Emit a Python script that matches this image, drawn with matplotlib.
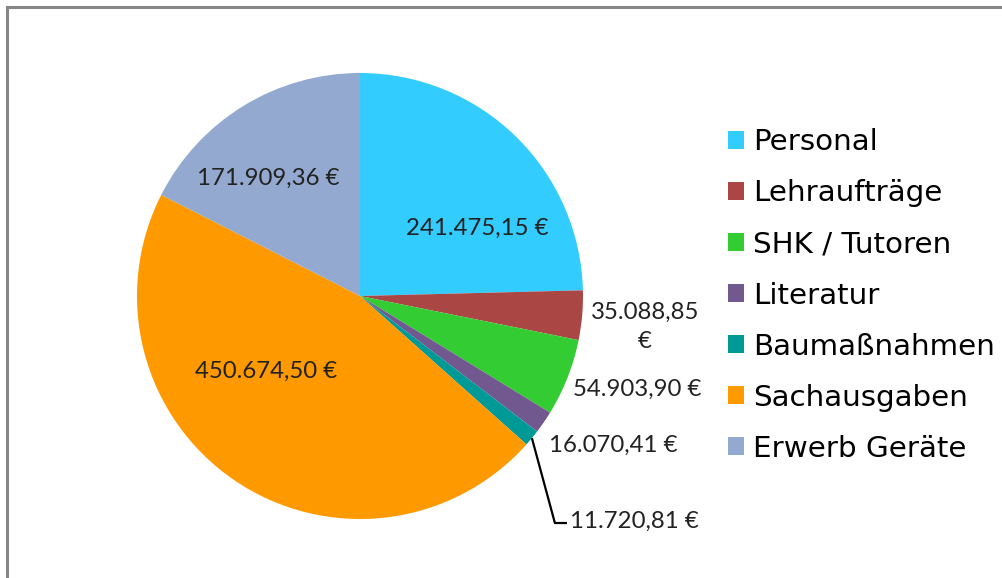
import numpy as np
import matplotlib.pyplot as plt
from matplotlib.patches import Patch
from matplotlib.lines import Line2D

categories = ["Personal", "Lehraufträge", "SHK / Tutoren", "Literatur",
              "Baumaßnahmen", "Sachausgaben", "Erwerb Geräte"]
values = [241475.15, 35088.85, 54903.90, 16070.41, 11720.81, 450674.50, 171909.36]
colors = ["#33CCFF", "#AA4643", "#33CC33", "#71588F", "#009A96", "#FF9900", "#94A9CF"]


def euro(v):
    s = f"{v:,.2f}".replace(",", "X").replace(".", ",").replace("X", ".")
    return s + " €"


labels = [euro(v) for v in values]
labels[1] = labels[1].replace(" €", "\n€")

# where Excel put the data labels (in units of the radius)
label_pos = [(0.525, 0.305), (1.278, -0.139), (1.242, -0.417), (1.135, -0.668),
             (0.942, -1.009), (-0.422, -0.336), (-0.413, 0.529)]

W, H = 1003, 578
fig = plt.figure(figsize=(W / 100, H / 100), dpi=100)

cx, cy, r = 360, 296, 223
ax = fig.add_axes([(cx - r) / W, (H - cy - r) / H, 2 * r / W, 2 * r / H])
wedges, _ = ax.pie(values, colors=colors, startangle=90, counterclock=False,
                   radius=1, wedgeprops=dict(linewidth=0))
ax.set_xlim(-1, 1)
ax.set_ylim(-1, 1)
ax.set_aspect("equal")
ax.axis("off")

lab_font = dict(family=["Lato", "DejaVu Sans"], fontsize=17.3, color="#222222")
for i, (txt, (x, y)) in enumerate(zip(labels, label_pos)):
    if i == 4:
        w = wedges[i]
        mid = np.deg2rad((w.theta1 + w.theta2) / 2)
        x0, y0 = np.cos(mid), np.sin(mid)
        ax.plot([x0, x - 0.068, x - 0.014], [y0, y - 0.009, y - 0.009],
                color="black", lw=1.6, clip_on=False, solid_capstyle="butt")
        ax.text(x, y, txt, ha="left", va="center", **lab_font)
    else:
        ax.text(x, y, txt, ha="center", va="center", linespacing=1.5, **lab_font)

handles = [Patch(facecolor=c, edgecolor="none") for c in colors]
fig.legend(handles, categories, loc="center left",
           bbox_to_anchor=(728 / W, 1 - 295.5 / H), frameon=False,
           prop=dict(family="DejaVu Sans", size=21.2),
           handlelength=0.56, handleheight=0.56, handletextpad=0.3,
           labelspacing=0.785, borderpad=0, borderaxespad=0)

# chart area border (only top and left edges are visible)
fig.add_artist(Line2D([7 / W, 1.01], [1 - 7 / H, 1 - 7 / H], color="#878787", lw=2.2))
fig.add_artist(Line2D([7 / W, 7 / W], [-0.01, 1 - 7 / H], color="#878787", lw=2.2))

fig.savefig("out.png", dpi=100, facecolor="white")
